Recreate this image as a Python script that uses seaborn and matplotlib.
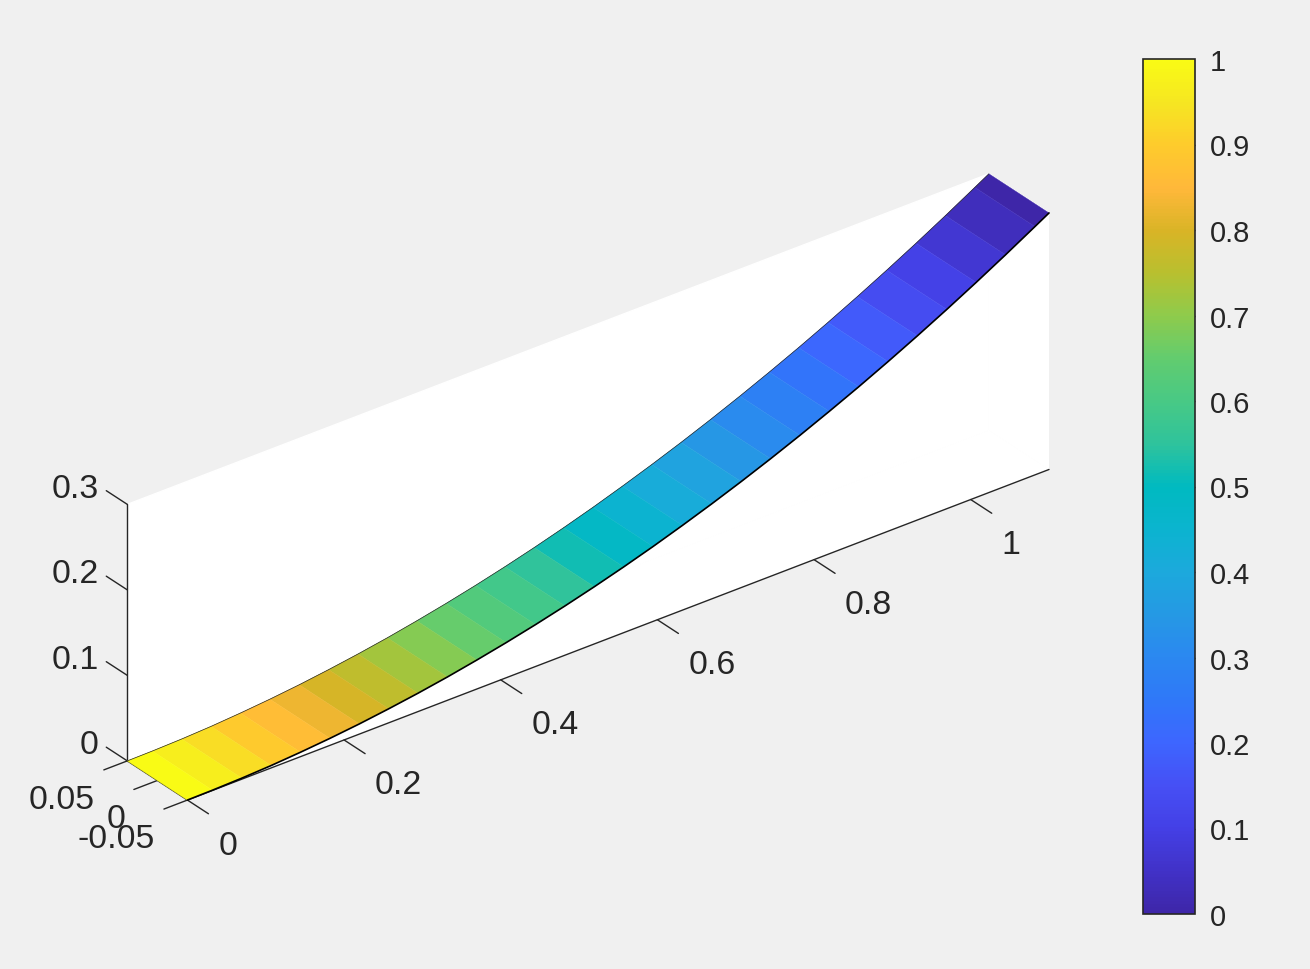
import matplotlib
matplotlib.use("Agg")
import matplotlib.pyplot as plt
import seaborn as sns
import numpy as np
from matplotlib.cm import ScalarMappable
from matplotlib.colors import Normalize
from matplotlib.text import Text

# values
x_nodes = [0, .032, .0695, .107, .1445, .182, .2195, .257, .2945, .332, .3695,
           .407, .4445, .482, .5195, .557, .5945, .632, .6695, .707, .7445,
           .782, .8195, .857, .8945, .932, .9695, 1.007, 1.0445, 1.082, 1.1]
z_nodes = [0, .0003, .0012, .0028, .0052, .0082, .0119, .0164, .0215, .0273, .0339,
           .0411, .0490, .0576, .0669, .0769, .0876, .0991, .1112, .1240, .1375,
           .1517, .1666, .1821, .1984, .2154, .2331, .2515, .2706, .2904, .3000]
y_nodes = [-0.05, 0.05]
band_values = [1.0, .966, .931, .897, .862, .828, .793, .759, .724, .69,
               .655, .621, .586, .552, .517, .483, .448, .414, .379, .345,
               .31, .276, .241, .207, .172, .138, .103, .069, .034, 0.0]

x_ticks = [0, 0.2, 0.4, 0.6, 0.8, 1]
x_labels = ['0', '0.2', '0.4', '0.6', '0.8', '1']
y_ticks = [-0.05, 0, 0.05]
y_labels = ['-0.05', '0', '0.05']
z_ticks = [0, 0.1, 0.2, 0.3]
z_labels = ['0', '0.1', '0.2', '0.3']
cbar_ticks = [0, .1, .2, .3, .4, .5, .6, .7, .8, .9, 1]
cbar_labels = ['0', '0.1', '0.2', '0.3', '0.4', '0.5', '0.6', '0.7', '0.8', '0.9', '1']

# colorbar sampled every 0.05
parula_colors = ['#3e26a8', '#4132c8', '#4440e6', '#4650f5', '#3d66ff', '#2f78f8', '#2b88f0',
                 '#2599e4', '#1ca9dc', '#0bb4cf', '#00bac0', '#2fc39c', '#48c985', '#62cc6f',
                 '#8ecb4c', '#b8c02f', '#d9b426', '#ffb83a', '#fecb2c', '#f6e622', '#f9fb15']

BG = '#f0f0f0'
INK = '#262626'
W, H = 1310, 970
FS_AXES = 24.4
FS_CBAR = 21

sns.set_theme(style='white', rc={'figure.facecolor': BG, 'axes.edgecolor': INK,
                                 'text.color': INK, 'xtick.color': INK, 'ytick.color': INK})
plt.rcParams['font.family'] = ['Liberation Sans', 'DejaVu Sans']
parula = sns.blend_palette(parula_colors, n_colors=256, as_cmap=True)
norm = Normalize(0, 1)

fig = plt.figure(figsize=(W / 100, H / 100), dpi=100)

S = 930
cx, cy = 575.6, 500.5
ax = fig.add_axes([(cx - S / 2) / W, 1 - (cy + S / 2) / H, S / W, S / H],
                  projection='3d', proj_type='ortho', computed_zorder=False)
ax.set_facecolor('none')
ax.view_init(elev=30, azim=-127.5)
ax.set_xlim(0, 1.1, view_margin=0)
ax.set_ylim(-0.05, 0.05, view_margin=0)
ax.set_zlim(0, 0.3, view_margin=0)
ax.set_box_aspect((1.1, 0.1, 0.3), zoom=1.097 * 1000 / S)

X, Y = np.meshgrid(x_nodes, y_nodes)
Z = np.vstack([z_nodes, z_nodes])
faces = parula(norm(np.array([band_values])))
surf = ax.plot_surface(X, Y, Z, facecolors=faces, rstride=1, cstride=1, shade=False,
                       linewidth=0.3, antialiased=True, zorder=3)
surf.set_edgecolor(faces.reshape(-1, 4))
surf.set_clip_on(False)
ax.plot(x_nodes, [y_nodes[0]] * len(x_nodes), z_nodes, color='black', lw=1.2, zorder=4, clip_on=False)
ax.plot(x_nodes, [y_nodes[1]] * len(x_nodes), z_nodes, color=INK, lw=0.5, zorder=4, clip_on=False)

ax.set_xticks([])
ax.set_yticks([])
ax.set_zticks([])
for axis in (ax.xaxis, ax.yaxis, ax.zaxis):
    axis.set_pane_color('white')
    axis.pane.set_edgecolor('white')
    axis.line.set_color(INK)
    axis.line.set_linewidth(1.0)

# matlab style ticks, mplot3d will not point them this way
y0, y1 = y_nodes
for t, lab in zip(x_ticks, x_labels):
    ax.plot([t, t], [y0, y0 - 0.035], [0, 0], color=INK, lw=1, zorder=2, clip_on=False)
    ax.text(t, y0 - 0.0515, -0.0290, lab, ha='left', va='center', fontsize=FS_AXES, color=INK, zorder=5)
for t, lab in zip(y_ticks, y_labels):
    ax.plot([0, -0.03], [t, t], [0, 0], color=INK, lw=1, zorder=2, clip_on=False)
    ax.text(-0.0412, t, -0.0305, lab, ha='right', va='center', fontsize=FS_AXES, color=INK, zorder=5)
for t, lab in zip(z_ticks, z_labels):
    ax.plot([0, 0], [y1, y1 + 0.035], [t, t], color=INK, lw=1, zorder=2, clip_on=False)
    ax.text(-0.0015, y1 + 0.0461, t - 0.002, lab, ha='right', va='center', fontsize=FS_AXES, color=INK, zorder=5)

cax = fig.add_axes([1143 / W, 1 - 915 / H, 52 / W, 855 / H])
cbar = fig.colorbar(ScalarMappable(norm=norm, cmap=parula), cax=cax)
cbar.set_ticks(cbar_ticks, labels=cbar_labels)
cbar.ax.tick_params(direction='in', length=6.5, width=1, color=INK, labelsize=FS_CBAR,
                    labelcolor=INK, pad=10.7, right=True, left=False)
major = cbar.ax.yaxis.get_major_ticks()
major[0].tick2line.set_visible(False)
major[-1].tick2line.set_visible(False)
cbar.outline.set_edgecolor(INK)
cbar.outline.set_linewidth(1.2)

# empty titles and axis labels, nothing to show
for txt in fig.findobj(Text):
    if not txt.get_text():
        txt.set_visible(False)

fig.savefig('out.png', dpi=100, facecolor=BG)
